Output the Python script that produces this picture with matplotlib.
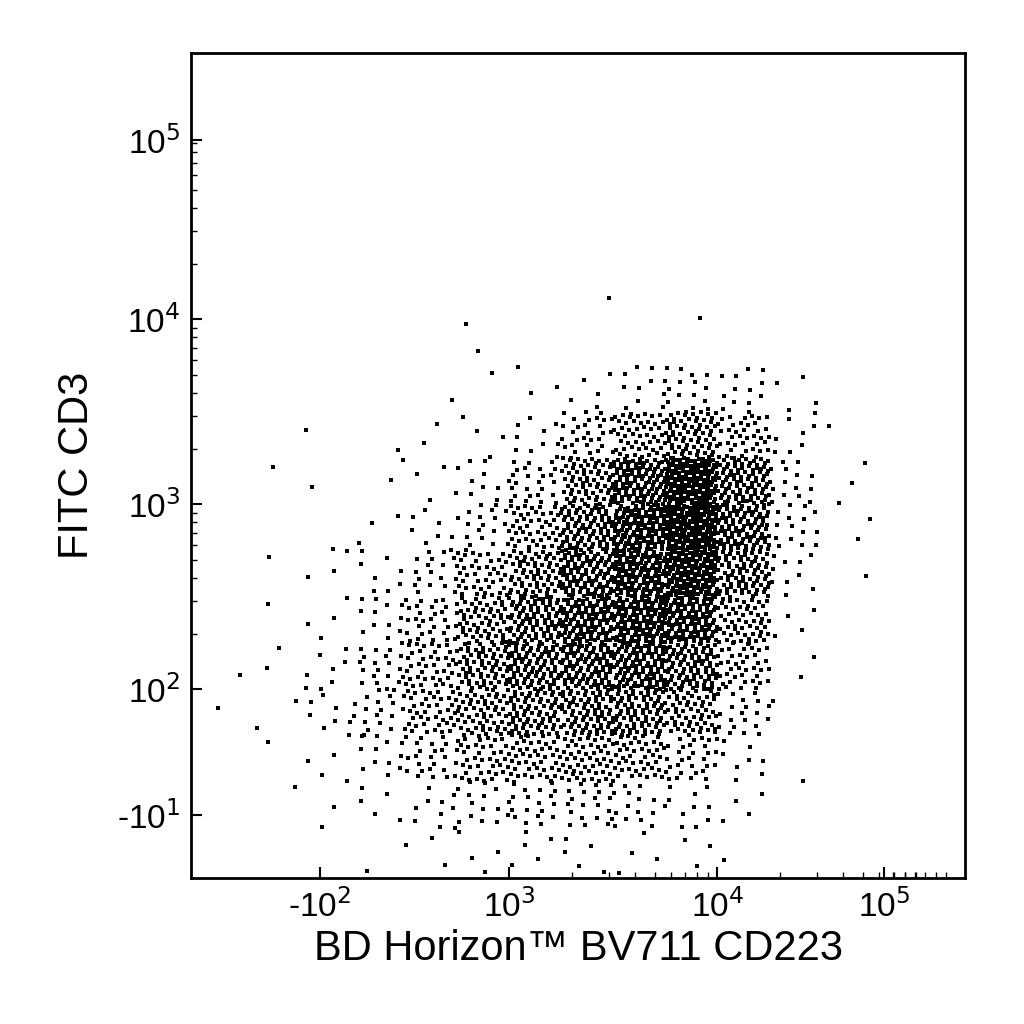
import numpy as np
from matplotlib import pyplot as plt

plt.rcParams['font.family'] = ['Liberation Sans', 'DejaVu Sans']

# cell edges in decade units of the display scale
x_edges = np.arange(1.5, 5.01, 0.25)
y_edges = np.arange(1.0, 4.26, 0.25)

# approximate event counts per cell, rows from bottom (y 1.0) to top (y 4.25)
counts = np.array([
    [0, 0, 0, 1, 3, 4, 5, 5, 4, 3, 1, 0, 0, 0],
    [0, 1, 2, 5, 10, 15, 18, 20, 15, 10, 4, 0, 0, 0],
    [0, 1, 4, 12, 25, 40, 45, 50, 45, 30, 8, 1, 0, 0],
    [1, 2, 8, 20, 40, 60, 75, 80, 80, 60, 20, 1, 0, 0],
    [1, 2, 8, 20, 40, 70, 90, 100, 110, 90, 40, 2, 0, 0],
    [0, 1, 4, 12, 30, 60, 90, 110, 130, 120, 55, 4, 0, 0],
    [0, 1, 3, 8, 18, 40, 70, 100, 130, 150, 80, 10, 1, 0],
    [0, 0, 1, 3, 8, 20, 45, 90, 130, 170, 100, 15, 2, 0],
    [0, 1, 1, 2, 4, 10, 25, 70, 110, 160, 90, 15, 3, 0],
    [0, 0, 1, 1, 2, 4, 10, 30, 50, 70, 40, 8, 1, 0],
    [0, 0, 0, 0, 1, 1, 3, 5, 10, 15, 12, 4, 0, 0],
    [0, 0, 0, 0, 0, 2, 0, 0, 0, 0, 0, 0, 0, 0],
    [0, 0, 0, 0, 0, 0, 0, 1, 0, 1, 0, 0, 0, 0],
])

x_ticks = [2.09, 3.0, 4.0, 4.8]
x_labels = ['-10$^2$', '10$^3$', '10$^4$', '10$^5$']
y_ticks = [1.32, 2.0, 3.0, 4.0, 4.97]
y_labels = ['-10$^1$', '10$^2$', '10$^3$', '10$^4$', '10$^5$']

# spread events across each cell with a low-discrepancy layout
g = 1.32471795724474602596
a1, a2 = 1 / g, 1 / g ** 2
xs, ys = [], []
k = 0
for r in range(counts.shape[0]):
    for c in range(counts.shape[1]):
        for i in range(counts[r, c]):
            k += 1
            fx = (0.5 + a1 * k) % 1
            fy = (0.5 + a2 * k) % 1
            xs.append(x_edges[c] + fx * 0.25)
            ys.append(y_edges[r] + fy * 0.25)

fig = plt.figure(figsize=(10.24, 10.24), dpi=100)
ax = fig.add_axes([191 / 1024, 1 - 878 / 1024, 774 / 1024, 825 / 1024])
ax.scatter(xs, ys, s=8, marker='s', c='black', linewidths=0)
ax.set_xlim(1.47, 5.19)
ax.set_ylim(0.98, 5.44)
ax.set_xticks(x_ticks, x_labels, fontsize=24)
ax.set_yticks(y_ticks, y_labels, fontsize=24)
minor_x = [np.log10(m) + d for d in (3, 4) for m in range(2, 10)] + [4.8 + 0.05 * i for i in range(1, 7)]
minor_y = [np.log10(m) + d for d in (2, 3, 4) for m in range(2, 10)]
ax.set_xticks(minor_x, minor=True)
ax.set_yticks(minor_y, minor=True)
ax.tick_params(direction='in', length=8, width=1.5, pad=8)
ax.tick_params(which='minor', direction='in', length=4, width=1)
for s in ax.spines.values():
    s.set_linewidth(2)
ax.set_xlabel('BD Horizon™ BV711 CD223', fontsize=30, labelpad=4)
ax.set_ylabel('FITC CD3', fontsize=30, labelpad=14)
fig.savefig('out.png', dpi=100)
